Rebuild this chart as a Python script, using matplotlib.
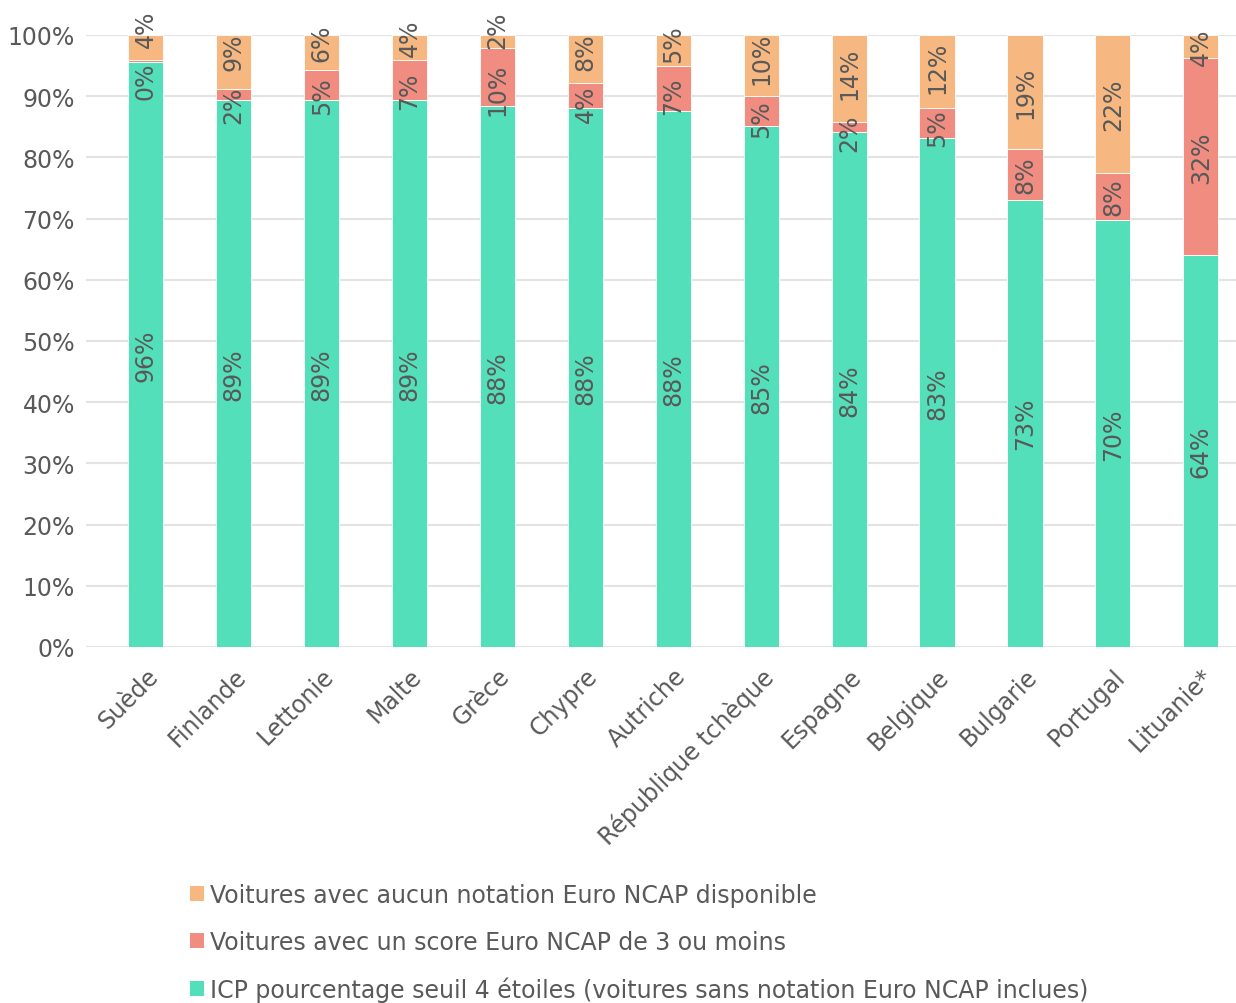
import numpy as np
import matplotlib.pyplot as plt
from matplotlib.patches import Patch

# données (en %)
pays = ["Suède", "Finlande", "Lettonie", "Malte", "Grèce", "Chypre", "Autriche",
        "République tchèque", "Espagne", "Belgique", "Bulgarie", "Portugal", "Lituanie*"]
icp_4_etoiles = [95.6, 89.4, 89.3, 89.3, 88.4, 88.0, 87.6, 85.1, 84.2, 83.2, 73.1, 69.7, 64.1]
score_3_ou_moins = [0.3, 1.8, 4.9, 6.6, 9.5, 4.2, 7.4, 4.9, 1.6, 4.9, 8.2, 7.8, 32.1]
sans_notation = [4.1, 8.8, 5.8, 4.1, 2.1, 7.8, 5.0, 10.0, 14.2, 11.9, 18.7, 22.5, 3.8]

noms_series = [
    "ICP pourcentage seuil 4 étoiles (voitures sans notation Euro NCAP inclues)",
    "Voitures avec un score Euro NCAP de 3 ou moins",
    "Voitures avec aucun notation Euro NCAP disponible",
]
couleurs = ["#52DFB9", "#F08C80", "#F6B880"]
GRIS = "#595959"
TAILLE = 17

fig = plt.figure(figsize=(12.36, 10.04), dpi=100)
ax = fig.add_axes([0.0696, 0.3546, 0.9304, 0.6096])

x = np.arange(len(pays))
bas = np.zeros(len(pays))
etiquettes = [[] for _ in pays]   # par barre : [texte, position y]
for valeurs, nom, coul in zip([icp_4_etoiles, score_3_ou_moins, sans_notation], noms_series, couleurs):
    v = np.array(valeurs)
    ax.bar(x, v, width=0.40, bottom=bas, color=coul, edgecolor="white", linewidth=0.6, zorder=3)
    for i, (xi, b, h) in enumerate(zip(x, bas, v)):
        t = ax.text(xi, b + h / 2, f"{h:.0f}%", rotation=90, ha="center", va="center",
                    fontsize=TAILLE, color=GRIS, zorder=4)
        etiquettes[i].append([t, b + h / 2])
    bas += v

ax.set_ylim(0, 100)
ax.set_xlim(-0.68, 12.4)

# écarter les étiquettes qui se chevauchent (petits segments)
renderer = fig.canvas.get_renderer()
px_par_unite = ax.get_window_extent(renderer).height / 100.0
for lab in etiquettes:
    hauteurs = [t.get_window_extent(renderer).height / px_par_unite for t, _ in lab]
    for _ in range(20):
        for k in range(len(lab) - 1):
            requis = (hauteurs[k] + hauteurs[k + 1]) / 2 + 2.5
            ecart = lab[k + 1][1] - lab[k][1]
            if ecart < requis:
                d = requis - ecart
                lab[k][1] -= d / 2
                lab[k + 1][1] += d / 2
    for t, y in lab:
        t.set_y(y)

ax.set_yticks(np.arange(0, 101, 10))
ax.set_yticklabels([f"{t}%" for t in range(0, 101, 10)])
ax.yaxis.grid(True, color="#E3E3E3", linewidth=1.5, zorder=0)
ax.set_axisbelow(True)
for s in ax.spines.values():
    s.set_visible(False)
ax.tick_params(axis="both", length=0, labelsize=TAILLE, labelcolor=GRIS)
ax.tick_params(axis="y", pad=8)
ax.set_xticks(x)
ax.set_xticklabels(pays, rotation=45, ha="right", va="top", rotation_mode="anchor")
ax.tick_params(axis="x", pad=12)

# légende en bas, ordre inversé
handles = [Patch(facecolor=c) for c in couleurs][::-1]
fig.legend(handles, noms_series[::-1], loc="upper left", bbox_to_anchor=(0.144, 0.131),
           frameon=False, fontsize=TAILLE, labelcolor=GRIS, handlelength=0.6,
           handleheight=0.6, handletextpad=0.25, labelspacing=0.96, borderpad=0)

fig.savefig("out.png", dpi=100)
